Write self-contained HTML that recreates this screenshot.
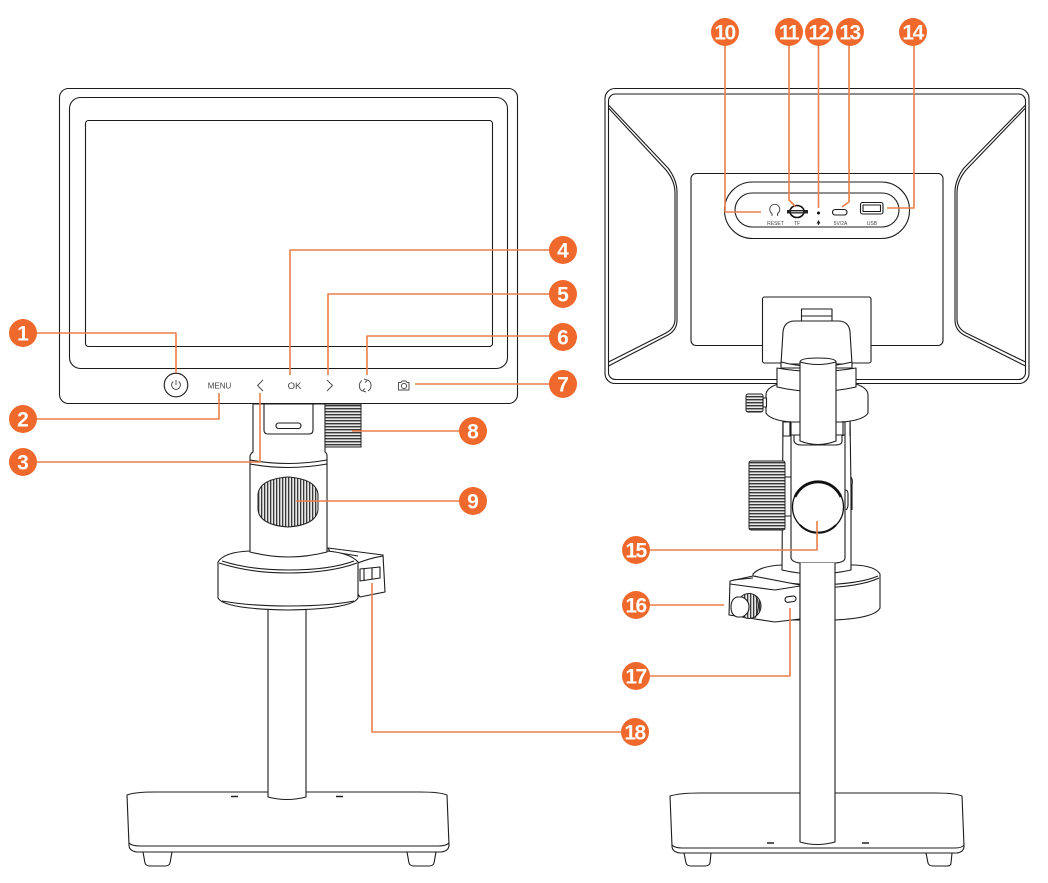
<!DOCTYPE html>
<html><head><meta charset="utf-8"><style>
html,body{margin:0;padding:0;background:#fff}
svg{display:block}
text{font-family:"Liberation Sans",sans-serif}
.b text{font-weight:700;font-size:21px;fill:#fff;text-anchor:middle}
.s{fill:#fff;stroke:#1c1c1c;stroke-width:1.1;stroke-linejoin:round}
.t{fill:none;stroke:#1c1c1c;stroke-width:1.1;stroke-linejoin:round}
.g{fill:none;stroke:#4a4a4a;stroke-width:.95;stroke-linejoin:round}
.o{fill:none;stroke:#ea7f4a;stroke-width:1.6;stroke-linejoin:round}
.l{fill:#444;text-anchor:middle}
</style></head><body>
<svg width="1048" height="883" viewBox="0 0 1048 883" xmlns="http://www.w3.org/2000/svg">
<defs>
<pattern id="h" width="4" height="3" patternUnits="userSpaceOnUse"><rect width="4" height="3" fill="#e8e8e8"/><rect width="4" height="1.4" fill="#3a3a3a"/></pattern>
<pattern id="v" width="3" height="4" patternUnits="userSpaceOnUse"><rect width="3" height="4" fill="#e8e8e8"/><rect width="1.3" height="4" fill="#3a3a3a"/></pattern>
</defs>

<!-- LEFT BASE AND POLE -->
<path class="s" d="M127 795Q135 792 155 792H420Q440 792 447 795L449 845Q449 851 441 852H137Q129 851 129 845Z"/>
<path class="t" d="M129 843Q132 846 140 846H438Q446 846 449 843"/>
<path class="s" d="M143 852L145 863Q146 866 150 866H165Q169 866 170 863L172 852Z"/>
<path class="s" d="M407 852L409 863Q410 866 414 866H429Q433 866 434 863L436 852Z"/>
<path d="M231 796.500H238M336 796.500H343" stroke="#222" stroke-width="1.600"/>
<path class="s" d="M268 605V797Q287 802 306 797V605"/>

<!-- LEFT RING -->
<path class="s" d="M328 548L383 555L385 592L360 597L340 570Z"/>
<path class="t" d="M328 551L358 556M358 563Q370 558 383 556"/>
<path class="s" d="M218 562Q224 552 250 551H327Q350 553 358 562V598Q352 609 288 610Q224 609 218 598Z"/>
<path class="t" d="M222 561Q250 570 288 570Q330 570 354 561M219 563Q250 573 288 573Q330 573 357 563M222 601Q250 606 288 606Q330 606 354 601"/>
<path class="s" d="M360 569L380 567V578L360 581Z"/>
<path class="t" d="M364 569V581M372 568V579"/>

<!-- LEFT COLUMN -->
<path class="s" d="M250 456Q251 453 253 452V404H325V452Q327 453 327 456V552Q288 562 250 552Z"/>
<path class="t" d="M250 460Q288 467 327 460M250 464Q288 471 327 464"/>
<path class="s" d="M264 404V430Q264 434 268 434H309Q313 434 313 430V404Z"/>
<rect class="t" x="276" y="423" width="25" height="5.500" rx="2.700"/>
<rect x="325" y="404" width="36" height="43" fill="url(#h)" stroke="#222" stroke-width="1"/>
<path d="M258 494Q260 479 288 477Q316 479 318 494V510Q316 525 288 527Q260 525 258 510Z" fill="url(#v)" stroke="#222" stroke-width="1"/>

<!-- LEFT MONITOR -->
<rect class="s" x="59.500" y="88.500" width="458" height="315" rx="9"/>
<rect class="t" x="69.500" y="97.500" width="438" height="271" rx="11"/>
<rect class="t" x="85.500" y="120.500" width="407" height="226" rx="3"/>
<circle class="t" cx="176" cy="385" r="11.800"/>
<path class="g" d="M176 380V385M173.300 381.500A4.400 4.400 0 1 0 178.700 381.500"/>
<text class="l" x="219.500" y="388.300" font-size="8">MENU</text>
<path class="g" d="M263 380L257.500 385.500L263 391"/>
<text class="l" x="294.500" y="389" font-size="9.500">OK</text>
<path class="g" d="M327 380L332.500 385.500L327 391"/>
<path class="g" d="M362 380.500A6.500 6.500 0 0 0 362 391M368 380A6.500 6.500 0 0 1 368 391M364 379L367.500 380.200L365 382.500M366 392L362.500 390.800L365 388.500"/>
<path class="g" d="M398.500 382.500H401L402 381H406L407 382.500H409V390H398.500Z"/><circle class="g" cx="404" cy="386" r="2.600"/>

<!-- RIGHT BASE -->
<path class="s" d="M670 796Q680 793 700 793H935Q955 793 962 796L964 846Q964 852 957 853H680Q672 852 672 846Z"/>
<path class="t" d="M672 845Q675 848 682 848H955Q962 848 964 845"/>
<path class="s" d="M684 853L686 863Q687 866 691 866H705Q709 866 710 863L711 853Z"/>
<path class="s" d="M926 853L928 863Q929 866 933 866H947Q951 866 951 863L952 853Z"/>
<path d="M767 843H774M862 843H869" stroke="#222" stroke-width="1.600"/>

<!-- RIGHT RING + BOX -->
<path class="s" d="M753 574Q760 566 782 565H855Q875 566 880 574V608Q875 618 835 620H780L755 600Z"/>
<path class="t" d="M755 576Q775 584 818 585Q860 584 878 576M757 578Q775 587 818 588Q860 587 879 578"/>
<path class="s" d="M730 581L753 576L800 585V619L775 622L729 615Z"/>
<path class="t" d="M730 584L775 590L800 586M733 580L753 578"/>
<ellipse cx="749" cy="606" rx="12" ry="12.500" fill="url(#v)" stroke="#222" stroke-width="1"/>
<path d="M755 595Q762 605 755 618" fill="none" stroke="#222"/>
<path class="s" d="M737 597H742Q749 600 749 607Q749 614 742 617H737Q731 615 731 607Q731 599 737 597Z"/>
<rect class="t" x="785" y="596.500" width="11" height="5.500" rx="2.700" transform="rotate(-8 790 599)"/>

<!-- RIGHT RODS + SLEEVE -->
<path class="s" d="M783 418L782 570Q816 578 851 570V490L850 418Z"/>
<path class="t" d="M851 477Q853 480 852 485V510"/>
<rect x="749" y="461" width="36" height="69" rx="2" fill="url(#h)" stroke="#222"/>
<path class="s" d="M791 422V558Q792 562 800 563H836Q845 562 845 558V422Z"/>
<path class="t" d="M785 477H791M785 516H791M845 490Q848 490 848 494V505Q848 508 846 510"/>
<circle cx="818" cy="507" r="25.500" fill="#fff" stroke="#111" stroke-width="1.300"/>
<path fill="none" stroke="#111" stroke-width="2.800" d="M795 497A25 25 0 0 1 841 497"/>
<path fill="none" stroke="#111" stroke-width="2" d="M800 525A25 25 0 0 0 836 525"/>

<!-- RIGHT MONITOR -->
<rect class="s" x="605" y="88.500" width="424" height="295" rx="10"/>
<rect class="t" x="608.500" y="94" width="417" height="285.500" rx="7"/>
<path class="t" d="M608.500 105L668 168Q677 180 677 192V320Q677 330 668 335L608.500 366"/>
<path class="t" d="M608.500 108L666 170Q675 181 675 193V319Q675 328 666 333L608.500 362"/>
<path class="t" d="M1025.500 105L964 168Q955 180 955 192V320Q955 330 964 335L1025.500 366"/>
<path class="t" d="M1025.500 108L966 170Q957 181 957 193V319Q957 328 966 333L1025.500 362"/>
<rect class="t" x="691" y="173.500" width="252" height="172" rx="5"/>
<rect class="s" x="762.500" y="297" width="108.500" height="66" rx="2"/>
<rect class="s" x="801.500" y="309" width="30.500" height="13"/>
<path class="t" d="M802 316H832"/>
<path class="s" d="M781 364L783 332Q784 321 795 321H838Q849 321 850 332L852 364Z"/>
<path class="s" d="M781 362Q816 371 852 362V368H781Z"/>
<path class="s" d="M766 395Q766 388 778 384H856Q868 388 868 395V413Q864 420 843 422H790Q770 420 766 413Z"/>
<path class="s" d="M777 368Q816 375 856 368V387Q816 396 777 387Z"/>
<rect x="746" y="394" width="17" height="18" rx="2" fill="url(#h)" stroke="#222"/>
<rect class="s" x="763" y="398" width="3.500" height="9"/>
<path class="s" d="M783 422H790V436H783Z" stroke="none"/>
<path class="t" d="M783 421V436M790 421V436M850 421V436M843 421V436"/>
<path class="t" d="M791 435H845"/>
<path class="s" d="M794 435V441Q795 445 802 445H835Q842 445 842 441V435Z"/>
<path class="s" d="M800 362Q800 358 818 358Q836 358 836 362V441Q818 448 800 441Z"/>
<path class="t" d="M800 362Q818 367 836 362"/>
<path class="s" d="M800 563V842Q817 847 835 842V563" style="stroke-width:1.100"/>

<rect class="s" x="724.500" y="182" width="185" height="56.500" rx="28"/>
<rect class="t" x="735" y="193" width="164" height="34" rx="17"/>
<path class="g" d="M772 216V213.500A5 5 0 1 1 777.500 213.500V216"/>
<text class="l" x="775.500" y="225" font-size="5">RESET</text>
<ellipse cx="797" cy="211.500" rx="7" ry="6" fill="#fff" stroke="#111" stroke-width="1.600"/>
<path d="M787 210H808V213.500H787Z" fill="#222"/>
<path d="M791 211.800H803" stroke="#fff" stroke-width=".8"/>
<text class="l" x="797" y="225" font-size="5">TF</text>
<circle cx="818.500" cy="213" r="1.500" fill="#111"/>
<path d="M818.500 220L820.500 223.500H819V225H818V223.500H816.500Z" fill="#222"/>
<rect class="t" x="832.500" y="209.500" width="14.500" height="5.500" rx="2.700" stroke-width="1.300"/>
<text class="l" x="840.500" y="225" font-size="5">5V/2A</text>
<rect class="t" x="860.500" y="202.500" width="22.500" height="11.500" rx="2" stroke-width="1.500"/>
<rect class="t" x="863" y="205" width="17.500" height="6.500" stroke-width=".8"/>
<text class="l" x="872" y="225" font-size="5">USB</text>

<!-- CONNECTORS -->
<path class="o" d="M23 333H176V373M23 419H219V393M23 462H260V393M563 250H290V375M563 294H328V375M563 336H367V375M563 384H415M473 431H352M473 501H296M635 732H372V583"/>
<path class="o" d="M725 32V212H761M789 32V200L795 206M818.500 32V208M849 32V202L842 207M914 32V208H887M636 550H817V521M636 605H724M636 676H790V608"/>

<!-- BADGES -->
<g fill="#f0692c">
<circle cx="23" cy="333" r="14"/><circle cx="23" cy="419" r="14"/><circle cx="23" cy="462" r="14"/>
<circle cx="563" cy="250" r="14"/><circle cx="563" cy="294" r="14"/><circle cx="563" cy="337" r="14"/><circle cx="563" cy="384" r="14"/>
<circle cx="473" cy="431" r="14"/><circle cx="473" cy="501" r="14"/><circle cx="635" cy="732" r="14"/>
<circle cx="725" cy="32" r="14"/><circle cx="789" cy="32" r="14"/><circle cx="819" cy="32" r="14"/><circle cx="850" cy="32" r="14"/><circle cx="913" cy="32" r="14"/>
<circle cx="636" cy="550" r="14"/><circle cx="636" cy="605" r="14"/><circle cx="636" cy="676" r="14"/>
</g>
<g class="b">
<text x="23" y="340.500">1</text><text x="23" y="426.500">2</text><text x="23" y="469.500">3</text>
<text x="563" y="257.500">4</text><text x="563" y="301.500">5</text><text x="563" y="344.500">6</text><text x="563" y="391.500">7</text>
<text x="473" y="438.500">8</text><text x="473" y="508.500">9</text>
</g>
<g class="b" style="letter-spacing:-1.500px">
<text x="634.500" y="739.500">18</text>
<text x="724.500" y="39.500">10</text><text x="788.500" y="39.500">11</text><text x="818.500" y="39.500">12</text><text x="849.500" y="39.500">13</text><text x="912.500" y="39.500">14</text>
<text x="635.500" y="557.500">15</text><text x="635.500" y="612.500">16</text><text x="635.500" y="683.500">17</text>
</g>
</svg>
</body></html>
